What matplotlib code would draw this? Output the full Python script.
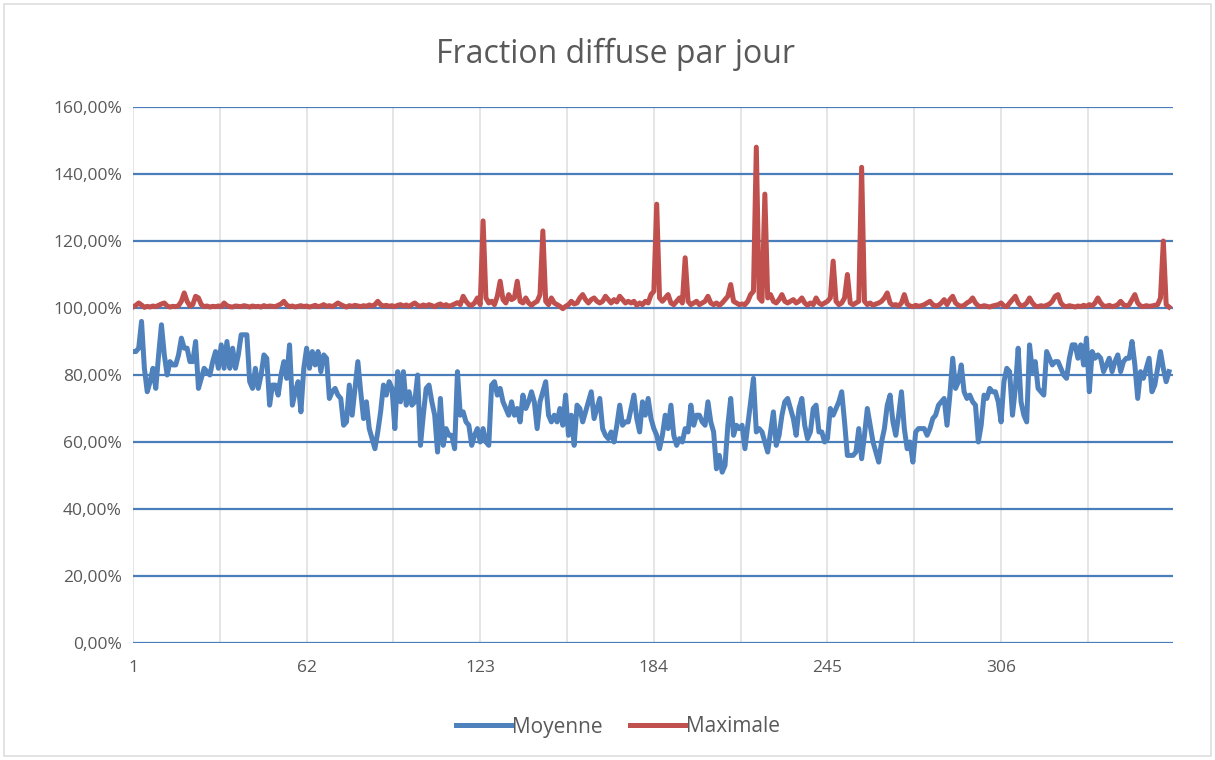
import matplotlib
matplotlib.use('Agg')
import matplotlib.pyplot as plt
from matplotlib.patches import Rectangle
from matplotlib.ticker import FuncFormatter
import numpy as np

title = 'Fraction diffuse par jour'
series_names = ['Moyenne', 'Maximale']
x_tick_labels = [1, 62, 123, 184, 245, 306]

# daily mean diffuse fraction (%), days 1..365
moyenne = [
    87, 87, 88, 96, 82, 75, 78, 82, 76, 86,
    95, 86, 80, 84, 83, 83, 86, 91, 88, 88,
    84, 84, 90, 76, 79, 82, 81, 80, 84, 87,
    82, 89, 82, 90, 82, 88, 82, 86, 92, 92,
    92, 78, 76, 82, 76, 80, 86, 85, 71, 77,
    77, 74, 80, 84, 79, 89, 71, 75, 78, 69,
    82, 88, 82, 87, 83, 87, 81, 86, 85, 73,
    75, 76, 74, 73, 65, 66, 77, 68, 76, 84,
    75, 67, 72, 64, 61, 58, 63, 69, 77, 74,
    78, 76, 64, 81, 72, 81, 71, 75, 71, 72,
    80, 59, 68, 76, 77, 72, 68, 57, 73, 59,
    64, 62, 62, 58, 81, 68, 69, 66, 65, 59,
    62, 64, 60, 64, 60, 59, 77, 78, 74, 76,
    72, 70, 68, 72, 68, 70, 66, 74, 70, 72,
    75, 72, 64, 72, 75, 78, 68, 66, 68, 66,
    70, 65, 74, 62, 68, 59, 71, 70, 66, 69,
    72, 75, 67, 70, 73, 64, 62, 61, 63, 60,
    65, 71, 65, 66, 66, 70, 74, 67, 63, 72,
    68, 73, 67, 64, 62, 58, 62, 68, 64, 71,
    62, 59, 61, 60, 64, 63, 71, 65, 68, 68,
    66, 65, 72, 66, 63, 52, 56, 51, 53, 65,
    73, 62, 65, 64, 65, 58, 65, 72, 79, 63,
    64, 63, 60, 57, 63, 69, 59, 62, 68, 72,
    73, 70, 67, 62, 70, 73, 65, 61, 63, 70,
    71, 63, 63, 60, 61, 70, 68, 70, 72, 75,
    66, 56, 56, 56, 57, 64, 55, 62, 70, 65,
    60, 57, 54, 60, 64, 71, 74, 66, 62, 68,
    75, 64, 58, 60, 54, 63, 64, 64, 64, 62,
    64, 67, 68, 71, 72, 73, 65, 74, 85, 76,
    78, 83, 75, 73, 74, 72, 71, 60, 65, 74,
    73, 76, 75, 75, 72, 66, 78, 82, 81, 68,
    76, 88, 72, 68, 66, 89, 81, 84, 76, 75,
    74, 87, 85, 83, 84, 84, 82, 80, 79, 85,
    89, 89, 85, 89, 83, 91, 75, 87, 85, 86,
    85, 81, 83, 85, 81, 84, 86, 81, 84, 85,
    85, 90, 83, 73, 81, 79, 82, 85, 75, 77,
    82, 87, 82, 78, 81,
]

# daily maximum diffuse fraction (%), days 1..365
maximale = [
    100.3, 100.8, 101.5, 100.9, 100.2, 100.5, 100.3, 100.6, 100.4, 100.8,
    101.2, 101.5, 100.6, 100.3, 100.5, 100.4, 100.7, 102.0, 104.5, 102.0,
    100.6, 101.0, 103.5, 103.0, 101.0, 100.4, 100.6, 100.3, 100.5, 100.4,
    100.6, 100.4, 101.5, 100.7, 100.4, 100.3, 100.6, 100.5, 100.4, 100.7,
    100.5, 100.3, 100.6, 100.4, 100.5, 100.3, 100.7, 100.4, 100.6, 100.5,
    100.4, 100.8, 101.2, 102.0, 100.9, 100.4, 100.6, 100.3, 100.5, 100.7,
    100.4, 100.6, 100.3, 100.5, 100.8, 100.4, 100.6, 101.0, 100.5, 100.7,
    100.4, 100.9, 101.5, 101.0, 100.6, 100.3, 100.7, 100.5, 100.8, 100.6,
    100.4, 100.7, 100.5, 100.9, 100.6, 101.0, 102.0, 101.0, 100.6, 100.8,
    100.5, 100.7, 100.4, 100.8, 101.0, 100.6, 100.9, 100.5, 101.0, 101.5,
    100.8, 100.5, 100.9, 100.6, 101.0, 100.7, 100.4, 100.9, 101.2, 100.6,
    101.0, 100.5, 100.8, 101.2, 101.6, 101.0, 103.5, 102.0, 101.0, 100.8,
    101.5, 103.0, 101.0, 126.0, 103.0, 101.5, 102.0, 101.0, 103.5, 108.0,
    102.5, 101.5, 104.0, 102.5, 103.0, 108.0, 102.0, 101.5, 103.0, 101.5,
    100.8, 101.5, 102.0, 104.0, 123.0, 102.0, 101.0, 103.0, 101.5, 101.0,
    100.5, 99.8, 100.5, 101.0, 102.0, 101.2, 101.5, 103.0, 104.0, 102.5,
    101.5, 102.5, 103.0, 102.0, 101.5, 102.0, 103.5, 102.5, 101.5, 102.5,
    101.8, 103.5, 102.5, 101.5, 102.0, 101.5, 102.0, 100.8, 101.5, 101.0,
    102.0, 101.5, 104.0, 105.0, 131.0, 103.0, 102.0, 103.0, 104.0, 101.5,
    101.0, 102.0, 103.0, 101.5, 115.0, 102.0, 101.0, 101.5, 102.0, 101.0,
    101.5, 102.0, 103.5, 101.5, 101.0, 101.5, 100.8, 101.5, 102.5, 103.5,
    107.0, 102.0, 101.5, 101.0, 101.2, 101.0, 102.0, 104.0, 105.0, 148.0,
    103.0, 102.0, 134.0, 103.0, 104.0, 102.0, 101.5, 102.5, 104.0, 102.0,
    101.5, 102.0, 102.5, 101.5, 102.0, 103.0, 101.5, 100.8, 101.5, 101.0,
    103.0, 101.5, 101.0, 101.5, 102.0, 103.0, 114.0, 102.0, 101.0, 101.5,
    103.0, 110.0, 101.5, 101.0, 101.5, 102.0, 142.0, 102.0, 101.0, 101.5,
    100.8, 101.2, 101.5, 102.0, 103.0, 104.5, 101.5, 100.8, 101.0, 100.6,
    101.5, 104.0, 101.2, 100.6, 100.4, 100.8, 100.5, 100.7, 101.0, 101.5,
    102.0, 101.0, 100.6, 100.8, 101.5, 102.5, 101.0, 102.5, 103.5, 101.5,
    100.8, 100.5, 100.8, 101.5, 102.0, 103.0, 101.5, 100.6, 100.4, 100.7,
    100.5, 100.3, 100.6, 100.8, 101.0, 101.5, 100.6, 100.4, 101.5, 102.5,
    103.5, 101.5, 100.6, 100.8, 101.5, 103.0, 101.5, 100.6, 100.4, 100.7,
    100.5, 100.8, 101.2, 102.0, 103.5, 104.0, 101.5, 100.6, 100.4, 100.7,
    100.5, 100.3, 100.6, 100.4, 100.8, 100.5, 101.0, 100.6, 101.5, 103.0,
    101.5, 100.6, 100.5, 100.8, 100.4, 100.6, 101.0, 102.0, 101.0, 100.6,
    101.0, 102.5, 104.0, 101.5, 100.6, 100.4, 100.7, 100.5, 100.6, 100.8,
    101.0, 103.0, 120.0, 101.0, 100.3,
]

days = np.arange(1, len(moyenne) + 1)

plt.rcParams['font.family'] = ['Open Sans', 'DejaVu Sans']
text_color = '#595959'
grid_blue = '#4a7ebb'
grid_gray = '#dedede'

fig = plt.figure(figsize=(12.15, 7.6), dpi=100)
ax = fig.add_axes([133 / 1215, 1 - 643 / 760, (1173 - 133) / 1215, (643 - 107) / 760])

ax.plot(days, moyenne, color='#4f81bd', lw=3.6, solid_joinstyle='round', label=series_names[0], zorder=3)
ax.plot(days, maximale, color='#c0504d', lw=3.6, solid_joinstyle='round', label=series_names[1], zorder=4)

ax.set_xlim(1, 366.4)
ax.set_ylim(0, 160)
ax.set_yticks(np.arange(0, 161, 20))
ax.yaxis.set_major_formatter(FuncFormatter(lambda v, _: f'{v:.2f}'.replace('.', ',') + '%'))
ax.set_xticks(x_tick_labels)
ax.set_xticklabels([str(t) for t in x_tick_labels])

# light vertical gridlines every half label step
for xv in np.arange(1, 368, 30.5):
    ax.axvline(xv, color=grid_gray, lw=1.1, zorder=1)
for yv in np.arange(0, 161, 20):
    ax.axhline(yv, color=grid_blue, lw=1.6, zorder=2)

for side in ['top', 'right', 'left', 'bottom']:
    ax.spines[side].set_visible(False)
ax.tick_params(axis='y', length=0, pad=8, labelsize=12.5, labelcolor=text_color)
ax.tick_params(axis='x', length=0, pad=12, labelsize=12.5, labelcolor=text_color)

fig.suptitle(title, x=616 / 1215, y=1 - 54 / 760, va='center',
             fontsize=23, color=text_color)

fig.legend(loc='center', bbox_to_anchor=(618 / 1215, 1 - 727 / 760), ncol=2, frameon=False,
           fontsize=15, labelcolor=text_color, handlelength=2.6, columnspacing=1.35,
           handletextpad=0.05)

fig.patches.append(Rectangle((4 / 1215, 4 / 760), 1207 / 1215, 752 / 760, transform=fig.transFigure,
                             fill=False, edgecolor=grid_gray, lw=1.2))

fig.savefig('out.png', dpi=100)
